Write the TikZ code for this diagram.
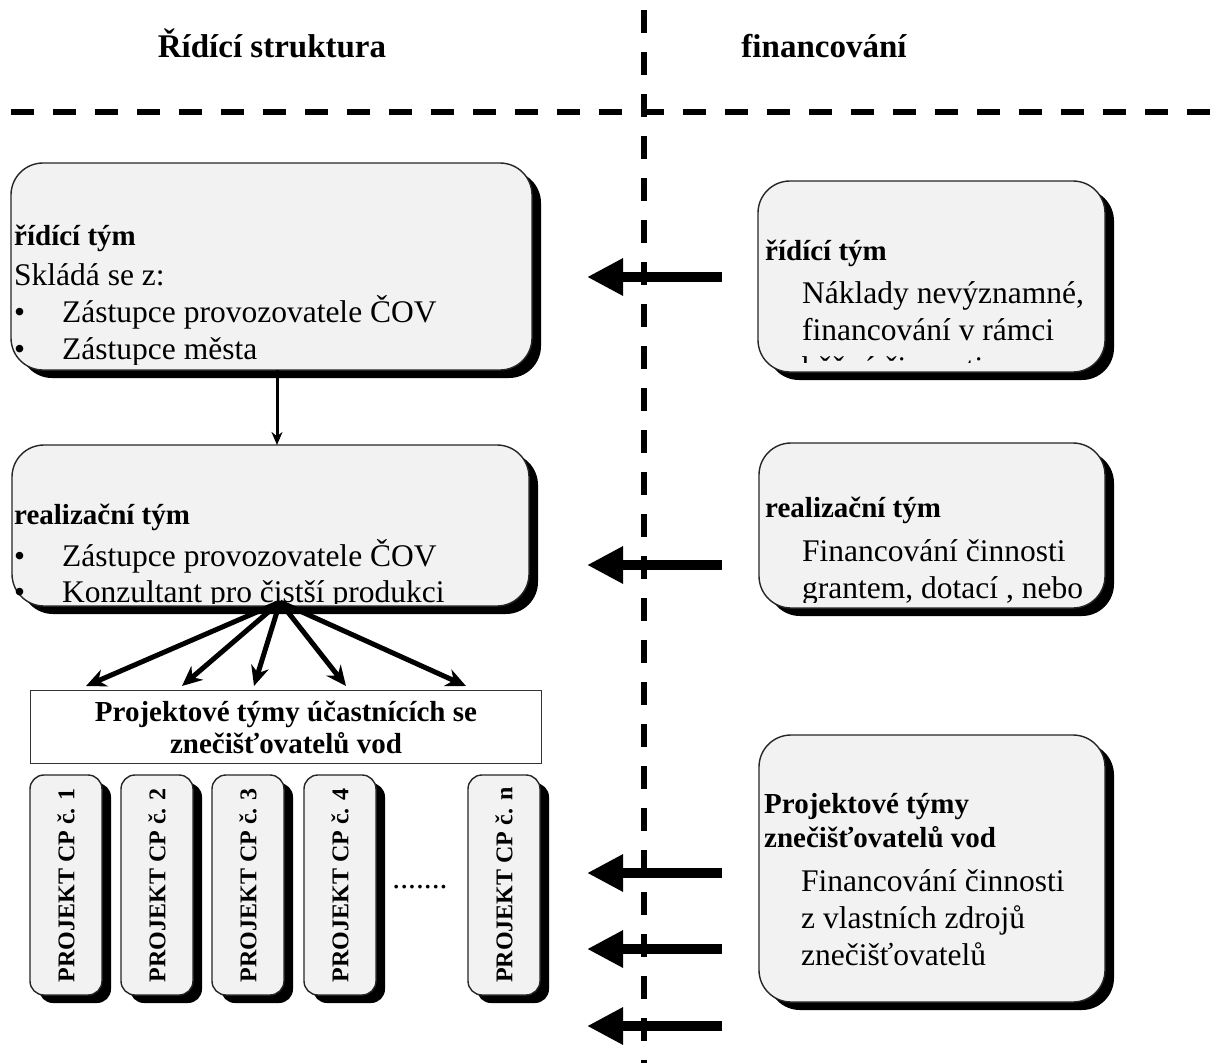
\documentclass[tikz,border=0pt]{standalone}
\usepackage{fontspec}
\setmainfont{Liberation Serif}
\usetikzlibrary{arrows.meta,shadows}
\definecolor{boxfill}{HTML}{F2F2F2}
\newcommand\bodyfont{\fontsize{31.5}{37}\selectfont}
\newcommand\headfont{\bfseries\fontsize{29}{34}\selectfont}
\newcommand\titlefont{\bfseries\fontsize{33}{38}\selectfont}
\newcommand\projfont{\bfseries\fontsize{24}{28}\selectfont}
\begin{document}
\begin{tikzpicture}[x=1pt,y=-1pt,
  rbox/.style={draw=black!85, line width=1.4pt, fill=boxfill, rounded corners=32pt,
    anchor=north west, inner sep=0pt, outer sep=0pt,
    drop shadow={shadow xshift=9pt,shadow yshift=-8pt,opacity=1,fill=black}},
  pbox/.style={rbox, rounded corners=14pt, minimum width=72pt, minimum height=220pt},
  txt/.style={anchor=base west, inner sep=0pt, font=\bodyfont},
  head/.style={anchor=base west, inner sep=0pt, font=\headfont},
  ptxt/.style={rotate=90, inner sep=0pt, font=\projfont},
  divider/.style={line width=5.5pt, dash pattern=on 23pt off 19pt},
  fat/.style={line width=10pt, -{Triangle[length=36pt,width=35pt]}},
  fan/.style={line width=5pt, -{Stealth[length=20pt,width=18pt]}},
  link/.style={line width=3pt, -{Stealth[length=13pt,width=11pt]}},
]
\useasboundingbox (0,0) rectangle (1218,1063);
\fill[white] (0,0) rectangle (1218,1063);

% dividers
\coordinate (vtop) at (644,10);
\coordinate (vbot) at (644,1063);
\coordinate (hl) at (11,112);
\coordinate (hr) at (1218,112);
\draw[divider] (vtop) -- (vbot);
\draw[divider] (hl) -- (hr);

% titles
\node[anchor=base, inner sep=0pt, font=\titlefont] (t1) at (272,57) {Řídící struktura};
\node[anchor=base, inner sep=0pt, font=\titlefont] (t2) at (824,57) {financování};

% box 1
\node[rbox, minimum width=521pt, minimum height=207pt] (b1) at (11,163) {};
\begin{scope}
\clip (11,163) rectangle (532,364);
\node[head] (b1h) at (14,245) {řídící tým};
\node[txt] (b1a) at (14,285) {Skládá se z:};
\node[txt] (b1b1) at (14,322) {•};
\node[txt] (b1b) at (62,322) {Zástupce provozovatele ČOV};
\node[txt] (b1c1) at (14,359) {•};
\node[txt] (b1c) at (62,359) {Zástupce města};
\end{scope}

% box 2
\node[rbox, minimum width=517pt, minimum height=161pt] (b2) at (12,445) {};
\begin{scope}
\clip (12,445) rectangle (529,603);
\node[head] (b2h) at (14,524) {realizační tým};
\node[txt] (b2a1) at (14,566) {•};
\node[txt] (b2a) at (62,566) {Zástupce provozovatele ČOV};
\node[txt] (b2b1) at (14,602) {•};
\node[txt] (b2b) at (62,602) {Konzultant pro čistší produkci};
\end{scope}

\draw[link] ([xshift=5.5pt]b1.south) -- ([xshift=5.5pt]b1.south |- b2.north);

% right box 1
\node[rbox, minimum width=347pt, minimum height=191pt] (r1) at (758,181) {};
\begin{scope}
\clip (758,181) rectangle (1105,362);
\node[head] (r1h) at (765,260) {řídící tým};
\node[txt] (r1a) at (802,303) {Náklady nevýznamné,};
\node[txt] (r1b) at (802,340) {financování v rámci};
\node[txt] (r1c) at (802,378) {běžné činnosti};
\end{scope}

% right box 2
\node[rbox, minimum width=346pt, minimum height=165pt] (r2) at (759,443) {};
\begin{scope}
\clip (759,443) rectangle (1105,602);
\node[head] (r2h) at (765,517) {realizační tým};
\node[txt] (r2a) at (802,561) {Financování činnosti};
\node[txt] (r2b) at (802,598) {grantem, dotací , nebo};
\end{scope}

% right box 3
\node[rbox, minimum width=346pt, minimum height=267pt] (r3) at (759,735) {};
\node[head] (r3h) at (764,813) {Projektové týmy};
\node[head] (r3i) at (764,847) {znečišťovatelů vod};
\node[txt] (r3a) at (801,891) {Financování činnosti};
\node[txt] (r3b) at (801,928) {z vlastních zdrojů};
\node[txt] (r3c) at (801,965) {znečišťovatelů};

% project teams rectangle
\node[draw=black!80, line width=1pt, fill=white, anchor=north west, inner sep=0pt,
  minimum width=511pt, minimum height=73pt, align=center,
  font=\bfseries\fontsize{29}{32}\selectfont] (pt) at (30,690)
  {Projektové týmy účastnících se\\znečišťovatelů vod};

% fan arrows
\coordinate (fan) at (280,602);
\coordinate (f1) at (86,686);
\coordinate (f2) at (182,686);
\coordinate (f3) at (254,686);
\coordinate (f4) at (346,686);
\coordinate (f5) at (466,686);
\foreach \t in {f1,f2,f3,f4,f5} \draw[fan] (fan) -- (\t);

% project boxes
\node[pbox] (p1) at (30,775) {};
\node[pbox] (p2) at (121,775) {};
\node[pbox] (p3) at (212,775) {};
\node[pbox] (p4) at (304,775) {};
\node[pbox] (p5) at (468,775) {};
\node[ptxt] (p1t) at (p1.center) {PROJEKT CP č. 1};
\node[ptxt] (p2t) at (p2.center) {PROJEKT CP č. 2};
\node[ptxt] (p3t) at (p3.center) {PROJEKT CP č. 3};
\node[ptxt] (p4t) at (p4.center) {PROJEKT CP č. 4};
\node[ptxt] (p5t) at (p5.center) {PROJEKT CP č. n};
\node[anchor=base, inner sep=0pt, font=\bodyfont] (dots) at (420,888) {.......};

% financing arrows
\foreach \n/\y in {a/277,b/565,c/873,d/949,e/1026}{
  \coordinate (s\n) at (722,\y);
  \coordinate (e\n) at (587,\y);
  \draw[fat] (s\n) -- (e\n);
}
\end{tikzpicture}
\end{document}
